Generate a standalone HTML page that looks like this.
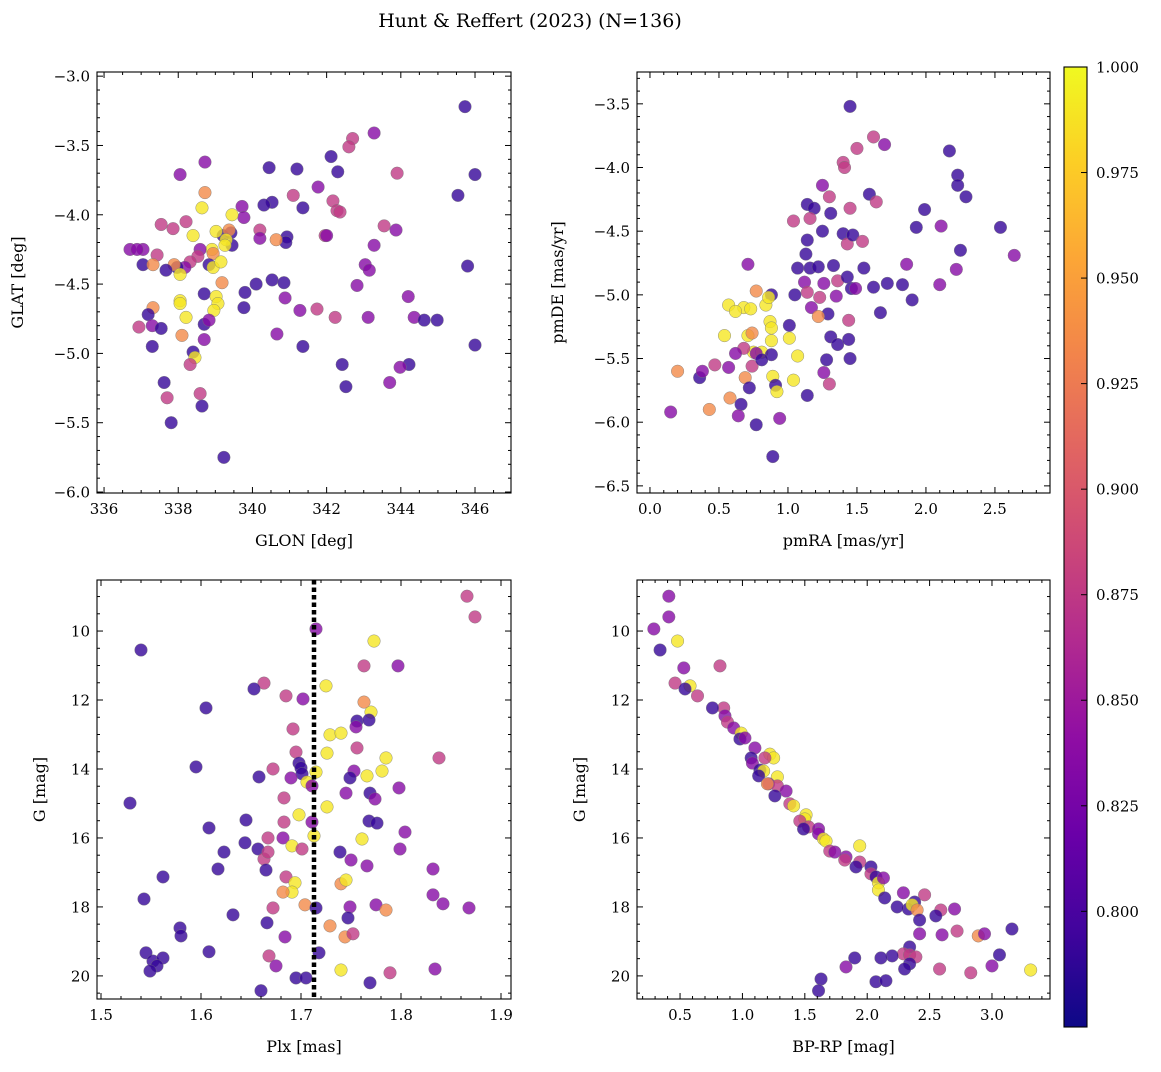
<!DOCTYPE html>
<html><head><meta charset="utf-8"><style>
body{margin:0;background:#fff}
svg{font-family:"DejaVu Serif","Liberation Serif",serif}
</style></head><body>
<svg id="fig" width="1161" height="1067" viewBox="0 0 1161 1067">
<defs><linearGradient id="plasma" x1="0" y1="1" x2="0" y2="0">
<stop offset="0" stop-color="#0d0887"/><stop offset="0.1" stop-color="#41049d"/><stop offset="0.2" stop-color="#6a00a8"/><stop offset="0.3" stop-color="#8f0da4"/><stop offset="0.4" stop-color="#b12a90"/><stop offset="0.5" stop-color="#cc4778"/><stop offset="0.6" stop-color="#e16462"/><stop offset="0.7" stop-color="#f2844b"/><stop offset="0.8" stop-color="#fca636"/><stop offset="0.9" stop-color="#fcce25"/><stop offset="1" stop-color="#f0f921"/></linearGradient></defs>
<text x="530" y="27" font-size="19" text-anchor="middle">Hunt &amp; Reffert (2023) (N=136)</text>
</svg>
<script>
// probability codes: D=0.79 P=0.835 M=0.875 O=0.935 Y=0.99
const probLevels = {D:0.79,P:0.835,M:0.875,O:0.935,Y:0.99};
const glon = [345.73,346.0,345.54,345.8,346.0,342.12,342.3,342.7,343.28,342.6,343.9,341.2,341.77,342.17,342.28,342.36,341.1,340.45,340.53,340.31,341.36,341.96,342.0,343.55,343.87,343.28,343.04,343.15,342.82,340.93,340.9,340.64,340.2,340.2,339.72,339.77,339.42,339.45,339.21,339.8,340.1,340.53,340.85,340.88,339.77,341.28,341.74,342.23,343.12,344.2,344.36,344.63,344.98,341.36,340.66,342.42,342.52,344.22,343.98,343.7,339.23,338.72,338.05,338.72,338.64,339.45,339.37,337.54,337.86,338.21,338.4,339.02,339.29,339.26,338.91,338.59,338.53,338.94,338.83,338.94,339.15,338.32,338.18,337.97,337.89,337.67,338.05,337.05,336.7,336.89,337.43,337.05,337.32,339.18,338.7,338.05,338.05,339.02,339.07,338.96,338.21,337.32,337.19,337.3,336.94,338.7,338.83,338.1,337.3,337.54,338.7,338.4,338.45,338.32,337.62,337.7,338.59,338.64,337.81];
const glat = [-3.22,-3.71,-3.86,-4.37,-4.94,-3.58,-3.69,-3.45,-3.41,-3.51,-3.70,-3.67,-3.80,-3.90,-3.97,-3.98,-3.86,-3.66,-3.91,-3.93,-3.95,-4.15,-4.15,-4.08,-4.11,-4.22,-4.36,-4.40,-4.51,-4.16,-4.20,-4.18,-4.11,-4.17,-3.94,-4.02,-4.13,-4.22,-4.15,-4.56,-4.50,-4.47,-4.49,-4.60,-4.67,-4.69,-4.68,-4.74,-4.74,-4.59,-4.74,-4.76,-4.76,-4.95,-4.86,-5.08,-5.24,-5.08,-5.10,-5.21,-5.75,-3.62,-3.71,-3.84,-3.95,-4.00,-4.11,-4.07,-4.10,-4.05,-4.15,-4.12,-4.18,-4.22,-4.25,-4.25,-4.30,-4.28,-4.36,-4.38,-4.34,-4.34,-4.38,-4.38,-4.36,-4.40,-4.43,-4.25,-4.25,-4.25,-4.29,-4.36,-4.36,-4.49,-4.57,-4.62,-4.64,-4.59,-4.64,-4.69,-4.74,-4.67,-4.72,-4.80,-4.81,-4.79,-4.76,-4.87,-4.95,-4.82,-4.90,-4.99,-5.03,-5.08,-5.21,-5.32,-5.29,-5.38,-5.50];
const probA = "DDDDDDDMPMMDPMMMMDDDDMPMPPPPPDDOMPPPDDDDDDDPDPMMPPPDDDPDDDPPDPPOYYOMMMYYYYYPMODYYMPDODYPPPMDOODYYYYYYODPMDPODDPDYMDMMDD";
const pmra = [1.45,2.17,2.23,2.23,2.29,1.99,1.93,2.11,2.25,2.54,2.64,2.22,2.1,1.86,1.9,1.83,1.72,1.62,1.67,1.59,1.64,1.5,1.62,1.7,1.4,1.41,1.45,1.25,1.3,1.14,1.19,1.04,1.16,1.31,1.4,1.25,1.43,1.47,1.54,1.14,1.13,1.07,1.16,1.22,1.33,1.55,0.71,1.12,1.26,1.36,1.43,1.46,1.49,1.35,1.23,1.14,0.88,1.05,0.77,1.17,1.29,1.44,1.31,1.36,1.44,1.45,1.22,1.01,1.01,1.07,0.84,0.86,0.68,0.57,0.62,0.73,0.54,0.71,0.74,0.87,0.88,0.88,0.75,0.81,0.77,0.88,0.68,0.62,0.47,0.36,0.38,0.2,0.57,0.74,0.81,0.69,0.72,0.89,1.04,0.91,0.92,1.28,1.26,1.3,1.14,0.43,0.58,0.66,0.64,0.77,0.94,0.15,0.89];
const pmde = [-3.52,-3.87,-4.06,-4.14,-4.23,-4.33,-4.47,-4.46,-4.65,-4.47,-4.69,-4.80,-4.92,-4.76,-5.04,-4.92,-4.91,-4.94,-5.14,-4.21,-4.27,-3.85,-3.76,-3.82,-3.96,-4.0,-4.32,-4.14,-4.23,-4.29,-4.32,-4.42,-4.4,-4.36,-4.52,-4.5,-4.60,-4.53,-4.58,-4.57,-4.68,-4.79,-4.79,-4.78,-4.77,-4.79,-4.76,-4.90,-4.91,-4.89,-4.86,-4.95,-4.95,-5.01,-5.02,-4.98,-5.0,-5.0,-4.97,-5.10,-5.15,-5.2,-5.33,-5.39,-5.35,-5.5,-5.17,-5.24,-5.34,-5.48,-5.08,-5.02,-5.1,-5.08,-5.13,-5.11,-5.32,-5.32,-5.3,-5.21,-5.26,-5.36,-5.45,-5.45,-5.46,-5.47,-5.42,-5.46,-5.55,-5.65,-5.6,-5.6,-5.57,-5.56,-5.51,-5.65,-5.73,-5.64,-5.67,-5.71,-5.76,-5.51,-5.61,-5.7,-5.79,-5.9,-5.81,-5.86,-5.95,-6.02,-5.97,-5.92,-6.27];
const probB = "DDDDDDDPDDPPPPDDDDDDMMMPMMMPMDDMMDDDMDMDDDDDDDPPPMDDPPMMDDOPDMDDDDODYYYYYYYYYYOYYYYYPDMPMDPOPMDODYYDYDPMDOODPDPPD";
const plx = [1.866,1.874,1.715,1.773,1.54,1.663,1.653,1.725,1.797,1.763,1.685,1.702,1.605,1.77,1.763,1.756,1.768,1.692,1.729,1.74,1.755,1.756,1.785,1.695,1.726,1.698,1.595,1.672,1.7,1.701,1.69,1.715,1.753,1.781,1.749,1.766,1.838,1.658,1.706,1.711,1.683,1.769,1.774,1.798,1.745,1.529,1.698,1.726,1.711,1.683,1.768,1.776,1.645,1.713,1.608,1.804,1.667,1.682,1.761,1.691,1.623,1.644,1.657,1.701,1.663,1.667,1.739,1.799,1.75,1.766,1.617,1.832,1.562,1.685,1.665,1.694,1.74,1.745,1.691,1.682,1.543,1.832,1.704,1.672,1.715,1.749,1.775,1.785,1.868,1.842,1.632,1.747,1.666,1.729,1.579,1.58,1.744,1.752,1.684,1.668,1.675,1.718,1.545,1.552,1.562,1.608,1.556,1.549,1.74,1.789,1.834,1.695,1.705,1.769,1.66];
const gmagC = [8.99,9.59,9.94,10.29,10.55,11.51,11.68,11.59,11.01,11.01,11.88,11.97,12.23,12.35,12.06,12.61,12.58,12.84,13.01,12.96,12.78,13.39,13.68,13.51,13.54,13.83,13.94,14.0,13.97,14.14,14.26,14.09,14.06,14.06,14.26,14.2,13.68,14.23,14.38,14.49,14.84,14.7,14.87,14.55,14.7,14.99,15.33,15.1,15.54,15.54,15.51,15.57,15.48,15.94,15.71,15.83,16.0,16.0,16.03,16.23,16.41,16.14,16.32,16.32,16.61,16.41,16.41,16.32,16.64,16.81,16.9,16.9,17.13,17.13,16.93,17.3,17.33,17.22,17.57,17.57,17.77,17.65,17.94,18.03,18.03,18.0,17.94,18.09,18.03,17.91,18.23,18.32,18.46,18.55,18.61,18.84,18.87,18.78,18.87,19.42,19.71,19.33,19.33,19.57,19.48,19.3,19.71,19.86,19.83,19.91,19.8,20.06,20.06,20.2,20.43];
const probC = "MMPYDMDYPMMPDYODDMYYPMYMYDDMDDPYPYDYMDYPMDPPPDYYPMDDDYDPMPYYDDDMMMDPPPDPDMDYOYYODPOMDPPOPPDDDODDOMPMPDDDDDDDYMPDDDD";
const bprp = [0.41,0.41,0.29,0.48,0.34,0.53,0.82,0.46,0.58,0.54,0.64,0.85,0.76,0.86,0.88,0.93,0.99,0.98,1.02,1.1,1.22,1.25,1.18,1.07,1.08,1.14,1.17,1.28,1.13,1.21,1.28,1.35,1.2,1.26,1.38,1.41,1.51,1.5,1.46,1.53,1.49,1.61,1.61,1.65,1.67,1.7,1.74,1.83,1.94,1.82,1.94,1.91,2.03,2.03,2.07,2.09,2.13,2.09,2.14,2.29,2.46,2.38,2.33,2.36,2.4,2.24,2.59,2.7,2.42,2.55,2.42,2.6,2.72,2.89,2.94,3.16,2.34,2.29,2.34,2.39,2.2,2.34,2.58,2.83,3.0,3.06,3.31,2.3,1.9,1.83,2.11,2.07,2.15,1.63,1.61];
const gmagD = [8.99,9.59,9.94,10.29,10.55,11.07,11.01,11.51,11.59,11.68,11.88,12.23,12.23,12.46,12.64,12.81,12.96,13.13,13.1,13.39,13.57,13.68,13.68,13.68,13.83,14.03,14.06,14.23,14.2,14.43,14.49,14.64,14.43,14.78,15.01,15.07,15.33,15.45,15.51,15.68,15.74,15.74,15.88,16.03,16.09,16.38,16.41,16.55,16.23,16.64,16.7,16.84,16.84,17.04,17.13,17.3,17.16,17.51,17.74,17.59,17.65,17.86,18.06,17.94,18.09,18.0,18.09,18.06,18.38,18.26,18.78,18.81,18.7,18.84,18.78,18.64,19.16,19.36,19.39,19.45,19.42,19.65,19.8,19.91,19.71,19.39,19.83,19.8,19.48,19.74,19.48,20.17,20.14,20.09,20.43];
const probD = "PPPYDPMMYDMMDPMPYDPPYYMDPDYYDPMPODMYYYMMDPPYYMPPYMMDDMDYPYDPMDDYODMPDDPPMOPDDMMMDDMMPDYDDPDDDDD";
const cbTicks = [0.800,0.825,0.850,0.875,0.900,0.925,0.950,0.975,1.000];
const vmin = 0.7726, vmax = 1.0;

const NS="http://www.w3.org/2000/svg", fig=document.getElementById('fig');
function mk(tag, attrs, parent){const e=document.createElementNS(NS,tag);for(const k in attrs)e.setAttribute(k,attrs[k]);(parent||fig).appendChild(e);return e;}
const stops=[[0,[13,8,135]],[0.1,[65,4,157]],[0.2,[106,0,168]],[0.3,[143,13,164]],[0.4,[177,42,144]],[0.5,[204,71,120]],[0.6,[225,100,98]],[0.7,[242,132,75]],[0.8,[252,166,54]],[0.9,[252,206,37]],[1,[240,249,33]]];
function plasma(v){let t=Math.max(0,Math.min(1,(v-vmin)/(vmax-vmin)));for(let i=1;i<stops.length;i++){if(t<=stops[i][0]){const a=stops[i-1],b=stops[i],f=(t-a[0])/(b[0]-a[0]);return 'rgb('+a[1].map((c,j)=>Math.round(c+(b[1][j]-c)*f)).join(',')+')';}}return 'rgb(240,249,33)';}
function fmt(v,d){const s=Math.abs(v).toFixed(d);return (v<0?'\u2212':'')+s;}

function panel(o){
  const g=mk('g',{});
  
  
  const X=v=>o.x0+(v-o.xmin)/(o.xmax-o.xmin)*(o.x1-o.x0);
  const Y=v=>o.yinv? o.y0+(v-o.ymin)/(o.ymax-o.ymin)*(o.y1-o.y0) : o.y1-(v-o.ymin)/(o.ymax-o.ymin)*(o.y1-o.y0);
  for(let i=0;i<o.xs.length;i++){
    const code=o.ps[i]||'D';
    const c=mk('circle',{cx:X(o.xs[i]),cy:Y(o.ys[i]),r:6.3,fill:plasma(probLevels[code]),'fill-opacity':0.8,stroke:'#777','stroke-width':0.4},g);
    
    
  }
  if(o.vline!==undefined){const l=mk('line',{x1:X(o.vline),x2:X(o.vline),y1:o.y0,y2:o.y1,stroke:'#000','stroke-width':4.5,'stroke-dasharray':'4.5,3'},g);
    
    }
  mk('rect',{x:o.x0,y:o.y0,width:o.x1-o.x0,height:o.y1-o.y0,fill:'none',stroke:'#000','stroke-width':1.1},g);
  const eps=1e-9;
  for(let v=Math.ceil(o.xmin/o.xminor)*o.xminor; v<=o.xmax+eps; v+=o.xminor){
    const major=Math.abs(v/o.xmaj-Math.round(v/o.xmaj))<1e-6; const L=major?6:3; const px=X(v);
    mk('line',{x1:px,x2:px,y1:o.y1,y2:o.y1-L,stroke:'#000','stroke-width':1},g);
    mk('line',{x1:px,x2:px,y1:o.y0,y2:o.y0+L,stroke:'#000','stroke-width':1},g);
    if(major){const t=mk('text',{x:px,y:o.y1+21,'font-size':15,'text-anchor':'middle'},g);t.textContent=fmt(Math.round(v/o.xmaj)*o.xmaj,o.xd);
      
      }
  }
  for(let v=Math.ceil(o.ymin/o.yminor)*o.yminor; v<=o.ymax+eps; v+=o.yminor){
    const major=Math.abs(v/o.ymaj-Math.round(v/o.ymaj))<1e-6; const L=major?6:3; const py=Y(v);
    mk('line',{x1:o.x0,x2:o.x0+L,y1:py,y2:py,stroke:'#000','stroke-width':1},g);
    mk('line',{x1:o.x1,x2:o.x1-L,y1:py,y2:py,stroke:'#000','stroke-width':1},g);
    if(major){const t=mk('text',{x:o.x0-7,y:py+5.5,'font-size':15,'text-anchor':'end'},g);t.textContent=fmt(Math.round(v/o.ymaj)*o.ymaj,o.yd);
      
      }
  }
  const xl=mk('text',{x:(o.x0+o.x1)/2,y:o.y1+53,'font-size':16,'text-anchor':'middle'},g);xl.textContent=o.xlabel;
  
  
  const cy=(o.y0+o.y1)/2;
  const yl=mk('text',{x:o.ylx,y:cy,'font-size':16,'text-anchor':'middle',transform:'rotate(-90 '+o.ylx+' '+cy+')'},g);yl.textContent=o.ylabel;
  
  
}
panel({name:'glon-glat-panel',x0:97,x1:511,y0:72,y1:493,xmin:335.81,xmax:346.97,ymin:-6.007,ymax:-2.97,xmaj:2,xminor:0.5,ymaj:0.5,yminor:0.1,xd:0,yd:1,xs:glon,ys:glat,ps:probA,xlabel:'GLON [deg]',ylabel:'GLAT [deg]',ylx:23});
panel({name:'proper-motion-panel',x0:637,x1:1050,y0:72,y1:493,xmin:-0.094,xmax:2.899,ymin:-6.556,ymax:-3.25,xmaj:0.5,xminor:0.1,ymaj:0.5,yminor:0.1,xd:1,yd:1,xs:pmra,ys:pmde,ps:probB,xlabel:'pmRA [mas/yr]',ylabel:'pmDE [mas/yr]',ylx:563});
panel({name:'parallax-magnitude-panel',x0:97,x1:511,y0:580,y1:999,xmin:1.496,xmax:1.91,ymin:8.52,ymax:20.67,yinv:true,xmaj:0.1,xminor:0.02,ymaj:2,yminor:0.5,xd:1,yd:0,xs:plx,ys:gmagC,ps:probC,xlabel:'Plx [mas]',ylabel:'G [mag]',ylx:45,vline:1.713});
panel({name:'color-magnitude-panel',x0:637,x1:1050,y0:580,y1:999,xmin:0.155,xmax:3.465,ymin:8.52,ymax:20.67,yinv:true,xmaj:0.5,xminor:0.1,ymaj:2,yminor:0.5,xd:1,yd:0,xs:bprp,ys:gmagD,ps:probD,xlabel:'BP-RP [mag]',ylabel:'G [mag]',ylx:585});
const cb=mk('g',{});


const cbx0=1064,cbx1=1087,cby0=67,cby1=1027;
mk('rect',{x:cbx0,y:cby0,width:cbx1-cbx0,height:cby1-cby0,fill:'url(#plasma)',stroke:'#000','stroke-width':1.1},cb);
const CY=v=>cby1-(v-vmin)/(vmax-vmin)*(cby1-cby0);
for(let i=0;i<cbTicks.length;i++){const py=CY(cbTicks[i]);
  mk('line',{x1:cbx1,x2:cbx1-6,y1:py,y2:py,stroke:'#000','stroke-width':1},cb);
  const t=mk('text',{x:cbx1+9,y:py+5.5,'font-size':15},cb);t.textContent=cbTicks[i].toFixed(3);
  
  }
</script>
</body></html>
